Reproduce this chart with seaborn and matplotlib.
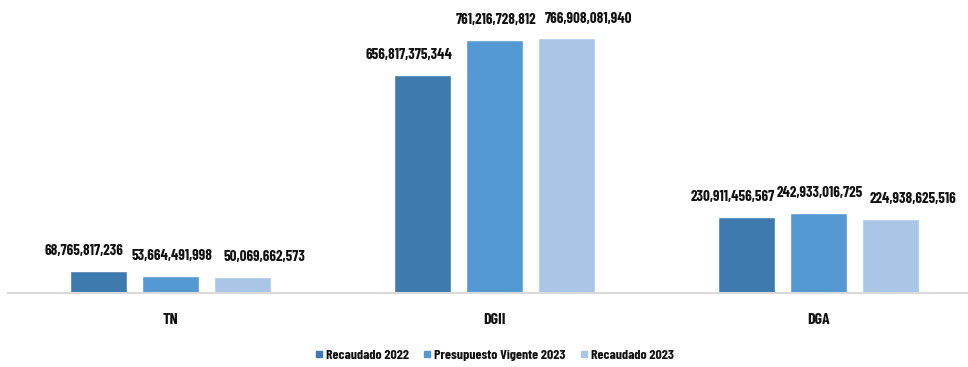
import seaborn as sns
import pandas as pd
import matplotlib.pyplot as plt
from matplotlib.font_manager import fontManager

categories = ["TN", "DGII", "DGA"]
series = ["Recaudado 2022", "Presupuesto Vigente 2023", "Recaudado 2023"]
recaudado_2022 = [68765817236, 656817375344, 230911456567]
presupuesto_2023 = [53664491998, 761216728812, 242933016725]
recaudado_2023 = [50069662573, 766908081940, 224938625516]
colors = ["#3E7AAD", "#5499D4", "#A9C6E6"]

names = {f.name for f in fontManager.ttflist}
font = "Barlow Condensed" if "Barlow Condensed" in names else "DejaVu Sans"

df = pd.DataFrame({
    "cat": categories * 3,
    "serie": [s for s in series for _ in categories],
    "valor": recaudado_2022 + presupuesto_2023 + recaudado_2023,
})

sns.set_style("white")
plt.rcParams["font.family"] = [font, "DejaVu Sans"]

fig = plt.figure(figsize=(9.68, 3.67), dpi=100)
ax = fig.add_axes([0.0083, 0.2003, 1.005, 0.786])
sns.barplot(data=df, x="cat", y="valor", hue="serie", palette=colors, saturation=1,
            width=0.666, gap=0.21, ax=ax, legend=False)

# labels are nudged sideways a little in the original so they don't collide
shifts = [-10, 1, 16]
for cont, dx in zip(ax.containers, shifts):
    for bar, v in zip(cont, cont.datavalues):
        ax.annotate(f"{v:,.0f}", (bar.get_x() + bar.get_width() / 2, bar.get_height()),
                    xytext=(dx, 9), textcoords="offset points", ha="center", va="bottom",
                    fontsize=10.8, fontweight="bold", color="#111111")

ax.set_ylim(0, 866e9)
ax.set_xlim(-0.5, 2.5)
ax.set_yticks([])
ax.set_xlabel("")
ax.set_ylabel("")
for s in ["top", "left", "right"]:
    ax.spines[s].set_visible(False)
ax.spines["bottom"].set_color("#D9D9D9")
ax.spines["bottom"].set_linewidth(1.5)
ax.tick_params(axis="x", length=0, pad=14)
for t in ax.get_xticklabels():
    t.set_fontweight("bold")
    t.set_fontsize(11.5)
    t.set_color("#111111")

handles = [plt.Line2D([], [], marker="s", linestyle="", color=c, markersize=5) for c in colors]
fig.legend(handles, series, loc="center", bbox_to_anchor=(0.51, 0.033), ncol=3,
           frameon=False, handletextpad=0.1, columnspacing=0.9, handlelength=0.8,
           prop={"weight": "bold", "size": 10}, labelcolor="#111111")

fig.savefig("out.png", dpi=100)
